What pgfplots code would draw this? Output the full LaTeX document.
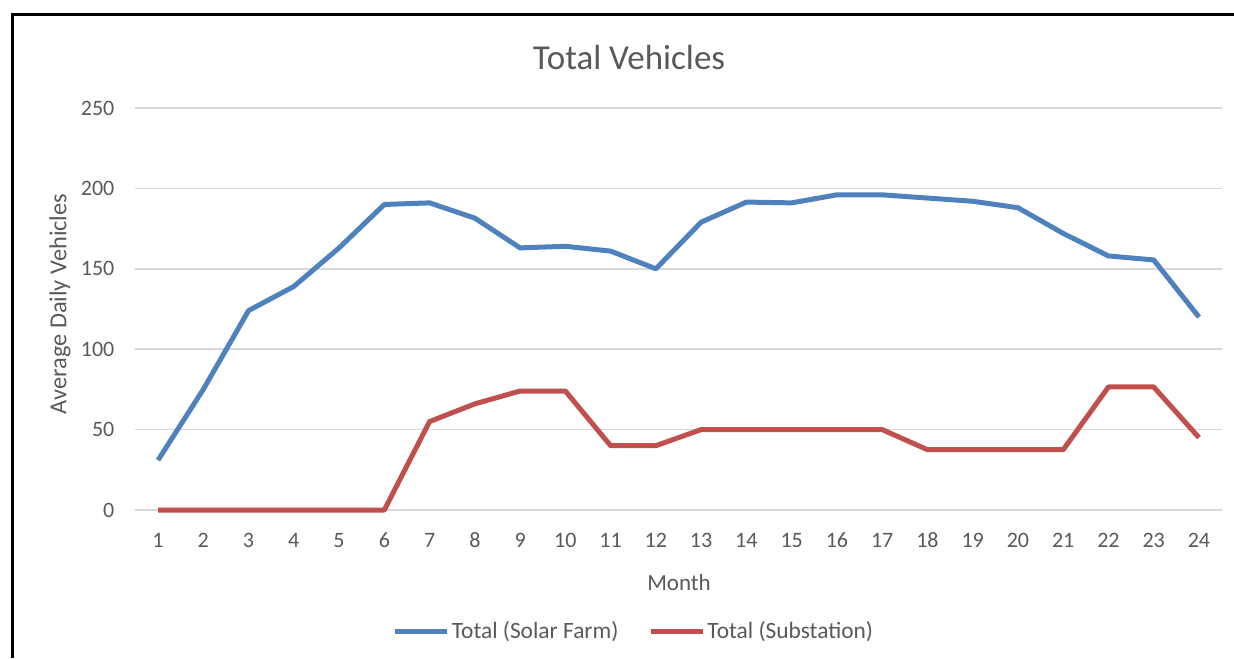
\documentclass[border=0pt]{standalone}
\usepackage{pgfplots}
\pgfplotsset{compat=1.18}
\usepackage{fontspec}
\setmainfont{Carlito}
\definecolor{txt}{HTML}{595959}
\definecolor{gridc}{HTML}{D9D9D9}
\definecolor{sblue}{HTML}{4F81BD}
\definecolor{sred}{HTML}{C0504D}
\begin{document}
\begin{tikzpicture}
\path[use as bounding box] (0,0) rectangle (617pt,329pt);
\draw[black,line width=1.5pt] (6pt,0) -- (6pt,321.5pt) -- (617pt,321.5pt);
\begin{axis}[
  at={(67.7pt,74pt)}, anchor=south west,
  scale only axis, width=543.1pt, height=201pt,
  xmin=0.5, xmax=24.5, ymin=0, ymax=250,
  xtick={1,...,24}, ytick={0,50,...,250},
  axis line style={draw=none},
  major tick length=0pt,
  ymajorgrids, grid style={gridc, line width=0.75pt},
  tick label style={font=\fontsize{11}{13}\selectfont, text=txt},
  /pgf/number format/assume math mode=true,
  xticklabel style={anchor=base, yshift=-18.5pt},
  yticklabel style={xshift=-7pt},
  legend style={at={(0.459,-0.301)}, anchor=center, draw=none, fill=none,
    font=\fontsize{11.7}{13}\selectfont, text=txt, legend columns=2,
    /tikz/every even column/.append style={column sep=14pt},
    inner sep=0pt, nodes={inner sep=1pt}},
  legend image code/.code={\draw[#1] (0pt,0pt) -- (26pt,0pt);},
  legend cell align=left,
  clip=false,
]
\addplot[sblue, line width=2.5pt, line join=round] coordinates {
(1,31) (2,75) (3,124) (4,139) (5,163) (6,190) (7,191) (8,181.5) (9,163) (10,164)
(11,161) (12,150) (13,179) (14,191.5) (15,191) (16,196) (17,196) (18,194) (19,192)
(20,188) (21,172) (22,158) (23,155.5) (24,120)};
\addlegendentry{Total (Solar Farm)}
\addplot[sred, line width=2.5pt, line join=round] coordinates {
(1,0) (2,0) (3,0) (4,0) (5,0) (6,0) (7,55) (8,66) (9,74) (10,74) (11,40) (12,40)
(13,50) (14,50) (15,50) (16,50) (17,50) (18,37.5) (19,37.5) (20,37.5) (21,37.5)
(22,76.5) (23,76.5) (24,45)};
\addlegendentry{Total (Substation)}
\end{axis}
\node[text=txt, font=\fontsize{17.5}{20}\selectfont] at (314.5pt,300.5pt) {Total Vehicles};
\node[text=txt, font=\fontsize{12.2}{14}\selectfont, rotate=90] at (30pt,177pt) {Average Daily Vehicles};
\node[text=txt, font=\fontsize{11.5}{13}\selectfont] at (339.5pt,37.5pt) {Month};
\end{tikzpicture}
\end{document}
